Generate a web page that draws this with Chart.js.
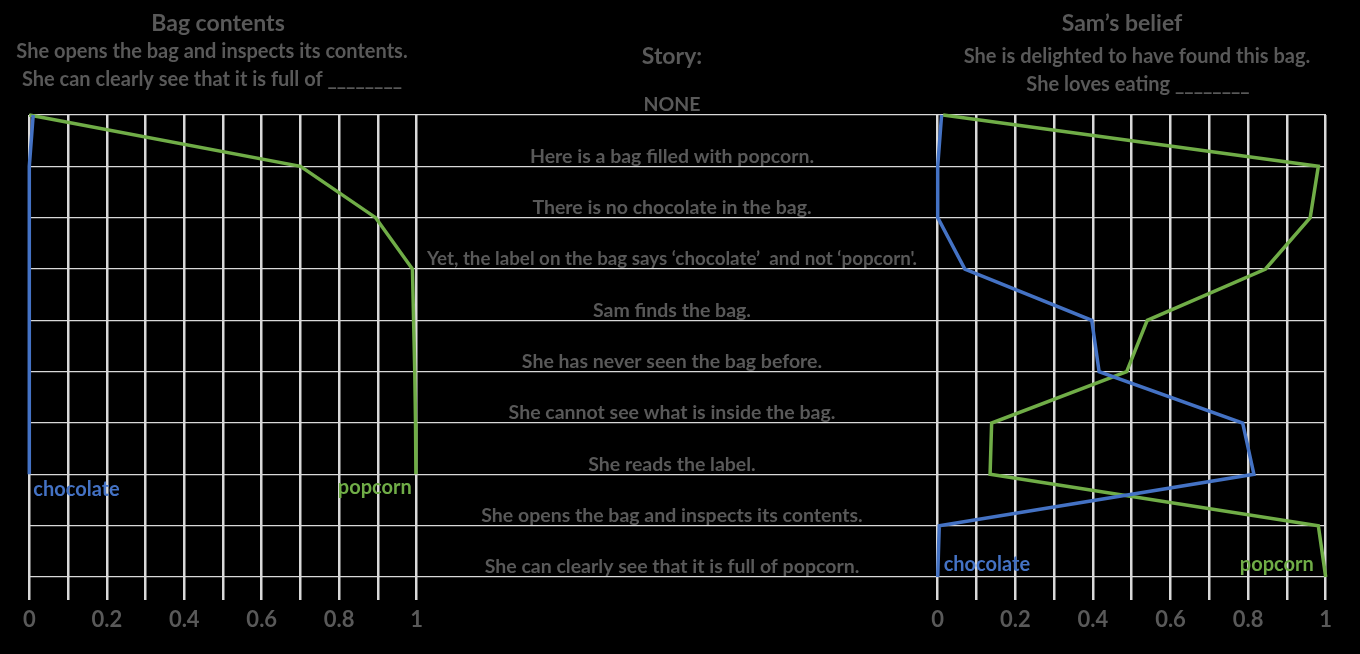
<!DOCTYPE html>
<html><head><meta charset="utf-8">
<script src="https://cdn.jsdelivr.net/npm/chart.js@4"></script>
<style>html,body{margin:0;padding:0;background:#000;}canvas{display:block}</style>
</head><body><canvas id="c" width="1360" height="654"></canvas>
<script>
// ---- data ----
const storyLines = [
  'NONE',
  'Here is a bag filled with popcorn.',
  'There is no chocolate in the bag.',
  'Yet, the label on the bag says \u2018chocolate\u2019  and not \u2018popcorn\'.',
  'Sam finds the bag.',
  'She has never seen the bag before.',
  'She cannot see what is inside the bag.',
  'She reads the label.',
  'She opens the bag and inspects its contents.',
  'She can clearly see that it is full of popcorn.'
];
const bagChocolate = [0.01, 0, 0, 0, 0, 0, 0, 0];
const bagPopcorn   = [0, 0.70, 0.894, 0.989, 0.992, 0.995, 0.997, 0.998];
const samChocolate = [0.01, 0, 0, 0.07, 0.397, 0.416, 0.786, 0.815, 0.004, 0];
const samPopcorn   = [0.014, 0.981, 0.96, 0.845, 0.54, 0.487, 0.139, 0.135, 0.981, 1.0];
const xTickLabels  = ['0', '', '0.2', '', '0.4', '', '0.6', '', '0.8', '', '1'];
const seriesNames  = ['chocolate', 'popcorn'];
const leftTitle    = 'Bag contents';
const leftSubtitle = ['She opens the bag and inspects its contents.', 'She can clearly see that it is full of ________'];
const rightTitle   = 'Sam\u2019s belief';
const rightSubtitle = ['She is delighted to have found this bag.', 'She loves eating ________'];
const storyTitle   = 'Story:';

// ---- style ----
const FONT = 'Lato, "Open Sans", sans-serif';
const GRAY = '#595959';
const BLUE = '#4472C4', GREEN = '#70AD47';
const GRID = '#d9d9d9';
const panelPlacement = { xL: [29.3, 416.7], xR: [937.7, 1325.7] };

const placePanels = {
  id: 'placePanels',
  afterLayout(chart) {
    const xL = chart.scales.xL, xR = chart.scales.xR;
    xR.top = xL.top; xR.bottom = xL.bottom; xR.height = xL.height;
    for (const [id, [l, r]] of Object.entries(panelPlacement)) {
      const s = chart.scales[id];
      s.left = l; s.right = r; s.width = r - l;
      s.configure();
    }
  }
};

function txt(ctx, s, x, y, size, color, align, maxW) {
  ctx.save();
  ctx.font = 'bold ' + size + 'px ' + FONT;
  ctx.fillStyle = color;
  ctx.textAlign = align || 'center';
  ctx.textBaseline = 'middle';
  if (maxW) ctx.fillText(s, x, y, maxW); else ctx.fillText(s, x, y);
  ctx.restore();
}

const texts = {
  id: 'texts',
  afterDatasetsDraw(chart) {
    const ctx = chart.ctx, y = chart.scales.y, xL = chart.scales.xL, xR = chart.scales.xR;
    // titles
    txt(ctx, leftTitle, 218, 24, 23, GRAY);
    txt(ctx, leftSubtitle[0], 212, 52, 20, GRAY);
    txt(ctx, leftSubtitle[1], 212, 80, 20, GRAY);
    txt(ctx, rightTitle, 1122, 24, 23, GRAY);
    txt(ctx, rightSubtitle[0], 1137, 57, 20, GRAY);
    txt(ctx, rightSubtitle[1], 1138, 85, 20, GRAY);
    txt(ctx, storyTitle, 672, 57, 23, GRAY);
    // story lines
    storyLines.forEach((s, i) => txt(ctx, s, 672, y.getPixelForValue(i) - 10, 19.5, GRAY, 'center', 490));
    // series labels
    txt(ctx, seriesNames[0], xL.getPixelForValue(0) + 4, y.getPixelForValue(bagChocolate.length - 1) + 15, 20, BLUE, 'left');
    txt(ctx, seriesNames[1], xL.getPixelForValue(1) - 5, y.getPixelForValue(bagPopcorn.length - 1) + 13, 20, GREEN, 'right');
    txt(ctx, seriesNames[0], xR.getPixelForValue(0) + 6, y.getPixelForValue(samChocolate.length - 1) - 12, 20, BLUE, 'left');
    txt(ctx, seriesNames[1], xR.getPixelForValue(1) - 12, y.getPixelForValue(samPopcorn.length - 1) - 12, 20, GREEN, 'right');
  }
};

function xScale(h) {
  return {
    type: 'linear', position: 'bottom', min: 0, max: 1,
    afterFit(s) { s.height = h; },
    border: { display: false },
    grid: { color: GRID, lineWidth: 2.5, tickLength: 23, drawTicks: true },
    ticks: {
      stepSize: 0.1, autoSkip: false, maxRotation: 0, minRotation: 0, padding: 7,
      color: GRAY, font: { family: FONT, size: 22, weight: 'bold' },
      callback: (v, i) => xTickLabels[i]
    }
  };
}

function ds(data, color, axis) {
  return { data, xAxisID: axis, borderColor: color, backgroundColor: color, borderWidth: 3.5,
           pointRadius: 0, tension: 0, fill: false, clip: false };
}

new Chart(document.getElementById('c'), {
  type: 'line',
  data: {
    labels: storyLines,
    datasets: [
      ds(bagChocolate, BLUE, 'xL'),
      ds(bagPopcorn, GREEN, 'xL'),
      ds(samChocolate, BLUE, 'xR'),
      ds(samPopcorn, GREEN, 'xR')
    ]
  },
  options: {
    indexAxis: 'y',
    responsive: false,
    animation: false,
    layout: { padding: { top: 115, left: 29, right: 34, bottom: 0 } },
    plugins: { legend: { display: false }, tooltip: { enabled: false }, title: { display: false } },
    scales: {
      y: {
        type: 'category', position: 'left', offset: false,
        afterFit(s) { s.width = 0; },
        border: { display: false },
        grid: { color: GRID, lineWidth: 1.2, drawTicks: false },
        ticks: { display: false }
      },
      xL: xScale(77),
      xR: xScale(0)
    }
  },
  plugins: [placePanels, texts]
});
</script>
</body></html>
